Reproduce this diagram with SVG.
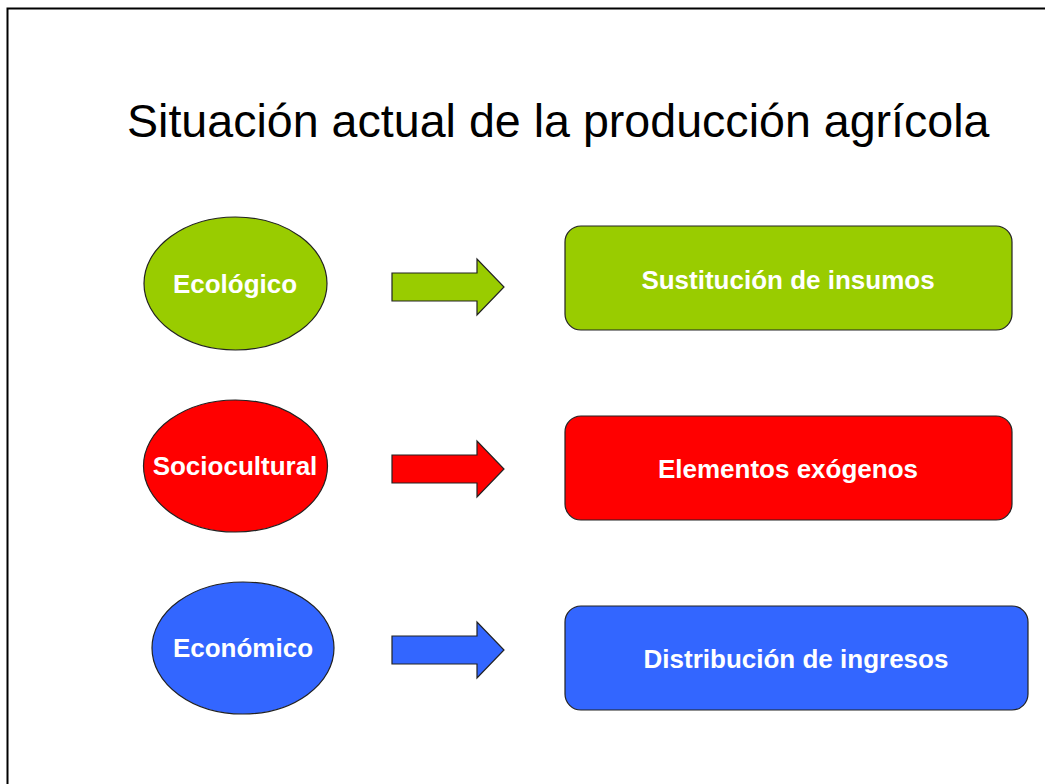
<svg xmlns="http://www.w3.org/2000/svg" width="1045" height="784" viewBox="0 0 1045 784">
<style>
.lbl{font-family:"Liberation Sans",Arial,sans-serif;font-weight:bold;font-size:26px;fill:#fff;text-anchor:middle}
.sh{stroke:#222;stroke-width:1.2}
.g{fill:#99CC00}.r{fill:#FF0000}.b{fill:#3366FF}
</style>
<rect x="0" y="0" width="1045" height="784" fill="#fff"/>
<path d="M7.5,784 V8.5 H1045" fill="none" stroke="#000" stroke-width="2"/>
<text x="127" y="137" font-family="'Liberation Sans',Arial,sans-serif" font-size="46.6" fill="#000">Situación actual de la producción agrícola</text>
<g id="n-ecologico"><ellipse class="g sh" cx="235.5" cy="283.5" rx="91.5" ry="66.5"/><text class="lbl" x="235" y="293">Ecológico</text></g>
<g id="n-sociocultural"><ellipse class="r sh" cx="235.5" cy="466" rx="92" ry="66"/><text class="lbl" x="235" y="475">Sociocultural</text></g>
<g id="n-economico"><ellipse class="b sh" cx="243" cy="648" rx="91" ry="66"/><text class="lbl" x="243" y="657">Económico</text></g>
<g id="n-sustitucion"><rect class="g sh" x="565" y="226" width="447" height="104" rx="16"/><text class="lbl" x="788" y="289">Sustitución de insumos</text></g>
<g id="n-elementos"><rect class="r sh" x="565" y="416" width="447" height="104" rx="16"/><text class="lbl" x="788" y="478">Elementos exógenos</text></g>
<g id="n-distribucion"><rect class="b sh" x="565" y="606" width="463" height="104" rx="16"/><text class="lbl" x="796" y="668">Distribución de ingresos</text></g>
<g id="connectors">
<path class="g sh" d="M392,273 H477 V259 L504,287 L477,315 V301 H392 Z"/>
<path class="r sh" d="M392,455 H477 V441 L504,469 L477,497 V483 H392 Z"/>
<path class="b sh" d="M392,636 H477 V622 L504,650 L477,678 V664 H392 Z"/>
</g>
</svg>
